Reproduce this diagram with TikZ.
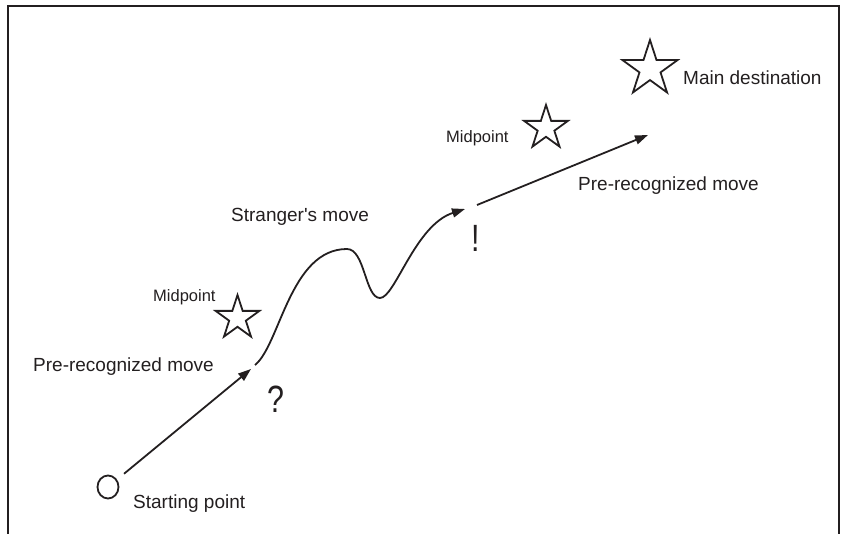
\documentclass[tikz,border=0pt]{standalone}
\usepackage{fontspec}
\setmainfont{Liberation Sans}
\newfontfamily\narrowfont[FakeStretch=0.8]{Liberation Sans}
\usetikzlibrary{arrows.meta,shapes.geometric}
\definecolor{ink}{HTML}{231F20}
\begin{document}
\begin{tikzpicture}[x=1pt, y=-1pt,
    lbl/.style={anchor=base west, inner sep=0pt, text=ink,
                font=\fontsize{19}{22}\selectfont},
    small/.style={font=\fontsize{16.5}{19}\selectfont},
    sign/.style={anchor=base, inner sep=0pt, text=ink,
                 font=\narrowfont\fontsize{38}{40}\selectfont},
    starpoint/.style={draw=ink, star, star points=5, star point ratio=2.618,
                      inner sep=0pt, line width=1.8pt},
    move/.style={draw=ink, line width=1.8pt, -{Triangle[length=13pt, width=9pt]}}]
    \useasboundingbox (0,0) rectangle (841,534);
    \draw[ink, line width=1.5pt] (8,534) -- (8,6) -- (839,6) -- (839,534);
    % places
    \node[draw=ink, ellipse, minimum width=21pt, minimum height=23pt, inner sep=0pt, line width=1.8pt] (start) at (108,487) {};
    \node[starpoint, minimum size=46pt] (mid1) at (237.5,318) {};
    \node[starpoint, minimum size=46pt] (mid2) at (546,128) {};
    \node[starpoint, minimum size=58pt] (goal) at (650,69) {};
    \coordinate (ask)    at (251,369);
    \coordinate (wavein) at (255,365);
    \coordinate (sure)   at (465,209);
    \coordinate (leave)  at (477,205);
    \coordinate (arrive) at (648,135);
    % moves
    \draw[move, shorten <=9pt] (start) -- (ask);
    \draw[move] (wavein) .. controls (280,345) and (290,249) .. (347,249)
                .. controls (365,249) and (365,298) .. (380,298)
                .. controls (395,298) and (415,225) .. (sure);
    \draw[move] (leave) -- (arrive);
    % labels
    \node[lbl] (startlbl)    at (133,508) {Starting point};
    \node[lbl] (firstlbl)    at (33,372)  {Pre-recognized move};
    \node[lbl, small] (mid1lbl) at (153,302) {Midpoint};
    \node[lbl] (strangerlbl) at (231,222) {Stranger\textquotesingle s move};
    \node[lbl, small] (mid2lbl) at (446,143) {Midpoint};
    \node[lbl] (secondlbl)   at (578,191) {Pre-recognized move};
    \node[lbl] (goallbl)     at (683,85)  {Main destination};
    \node[sign] (query) at (276,413) {?};
    \node[sign] (alert) at (476,252) {!};
\end{tikzpicture}
\end{document}
